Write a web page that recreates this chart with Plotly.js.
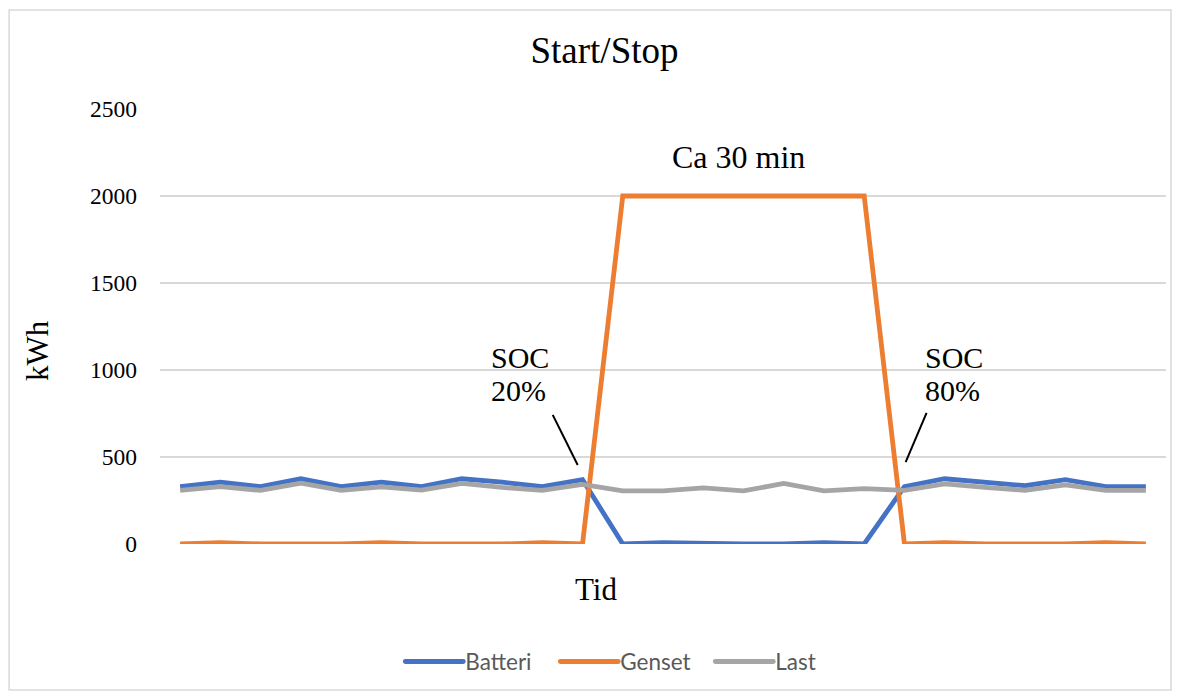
<!DOCTYPE html>
<html>
<head>
<meta charset="utf-8">
<script src="https://cdn.plot.ly/plotly-3.0.1.min.js"></script>
<style>
  html, body { margin: 0; padding: 0; background: #ffffff; }
  #chart { width: 1183px; height: 698px; }
</style>
</head>
<body>
<div id="chart"></div>
<script>
// Time steps (category positions, no labels shown)
const steps = [0,1,2,3,4,5,6,7,8,9,10,11,12,13,14,15,16,17,18,19,20,21,22,23,24];

// Series values (kWh)
const batteri = [330,355,330,375,330,355,330,375,355,330,370, 0,8,3,0,0,8,0, 330,375,355,335,370,330,330];
const genset  = [0,8,0,0,0,8,0,0,0,8,0, 2000,2000,2000,2000,2000,2000,2000, 0,8,0,0,0,8,0];
const last    = [308,330,308,350,308,328,310,348,325,308,342, 305,305,322,305,348,305,318, 308,345,325,309,340,308,308];

const yTicks = [0,500,1000,1500,2000,2500];

const serif = "'Liberation Serif', 'Times New Roman', serif";
const sans = "Lato, 'Liberation Sans', sans-serif";

const traces = [
  {x: steps, y: batteri, name: 'Batteri', type: 'scatter', mode: 'lines',
   line: {color: '#4472C4', width: 4.8}},
  {x: steps, y: genset, name: 'Genset', type: 'scatter', mode: 'lines',
   line: {color: '#ED7D31', width: 4.8}},
  {x: steps, y: last, name: 'Last', type: 'scatter', mode: 'lines',
   line: {color: '#A5A5A5', width: 4.8}}
];

const layout = {
  width: 1183, height: 698,
  margin: {l: 160, r: 17, t: 109, b: 154},
  paper_bgcolor: '#ffffff',
  plot_bgcolor: '#ffffff',
  font: {family: serif, color: '#000000'},
  title: {text: 'Start/Stop', font: {family: serif, size: 37, color: '#000000'},
          x: 0.511, xanchor: 'center', y: 0.928, yanchor: 'middle'},
  xaxis: {
    range: [-0.5, 24.5],
    showticklabels: false, showgrid: false, zeroline: false, showline: false, ticks: ''
  },
  yaxis: {
    range: [0, 2500],
    tickvals: yTicks, ticktext: yTicks.map(String),
    tickfont: {family: serif, size: 23.5, color: '#000000'},
    ticks: '', ticklabelstandoff: 22,
    showgrid: true, gridcolor: '#d9d9d9', gridwidth: 1.3,
    zeroline: false, showline: false
  },
  showlegend: true,
  legend: {
    orientation: 'h', x: 0.465, xanchor: 'center', y: -0.271, yanchor: 'middle',
    font: {family: sans, size: 22.5, color: '#595959'},
    itemwidth: 60, tracegroupgap: 0, entrywidth: 80, entrywidthmode: 'pixels'
  },
  annotations: [
    {x: 0.4334, y: -0.1057, xref: 'paper', yref: 'paper', text: 'Tid', showarrow: false,
     xanchor: 'center', yanchor: 'middle',
     font: {family: serif, size: 31, color: '#000000'}},
    {x: -0.1213, y: 0.446, xref: 'paper', yref: 'paper', text: 'kWh', showarrow: false,
     xanchor: 'center', yanchor: 'middle',
     textangle: -90, font: {family: serif, size: 31, color: '#000000'}},
    {x: 13.87, y: 2225, xref: 'x', yref: 'y', text: 'Ca 30 min', showarrow: false,
     font: {family: serif, size: 32, color: '#000000'}},
    {x: 8.45, y: 1070, xref: 'x', yref: 'y', text: 'SOC', showarrow: false,
     font: {family: serif, size: 30, color: '#000000'}},
    {x: 8.40, y: 885, xref: 'x', yref: 'y', text: '20%', showarrow: false,
     font: {family: serif, size: 30, color: '#000000'}},
    {x: 19.24, y: 1070, xref: 'x', yref: 'y', text: 'SOC', showarrow: false,
     font: {family: serif, size: 30, color: '#000000'}},
    {x: 19.19, y: 885, xref: 'x', yref: 'y', text: '80%', showarrow: false,
     font: {family: serif, size: 30, color: '#000000'}}
  ],
  shapes: [
    {type: 'line', xref: 'x', yref: 'y', x0: 9.26, y0: 742, x1: 9.88, y1: 454,
     line: {color: '#000000', width: 2}},
    {type: 'line', xref: 'x', yref: 'y', x0: 18.55, y0: 753, x1: 18.03, y1: 471,
     line: {color: '#000000', width: 2}},
    {type: 'rect', xref: 'paper', yref: 'paper', x0: -0.150, x1: 1.005, y0: -0.3356, y1: 1.2276,
     line: {color: '#d9d9d9', width: 1.5}, fillcolor: 'rgba(0,0,0,0)', layer: 'below'}
  ]
};

Plotly.newPlot('chart', traces, layout, {displayModeBar: false, staticPlot: true}).then(function (gd) {
  // lengthen legend line samples so they meet the label, as in the reference
  gd.querySelectorAll('.legend .legendlines path').forEach(function (p) {
    p.setAttribute('d', 'M10,0h58');
    p.style.strokeLinecap = 'round';
  });
});
</script>
</body>
</html>
